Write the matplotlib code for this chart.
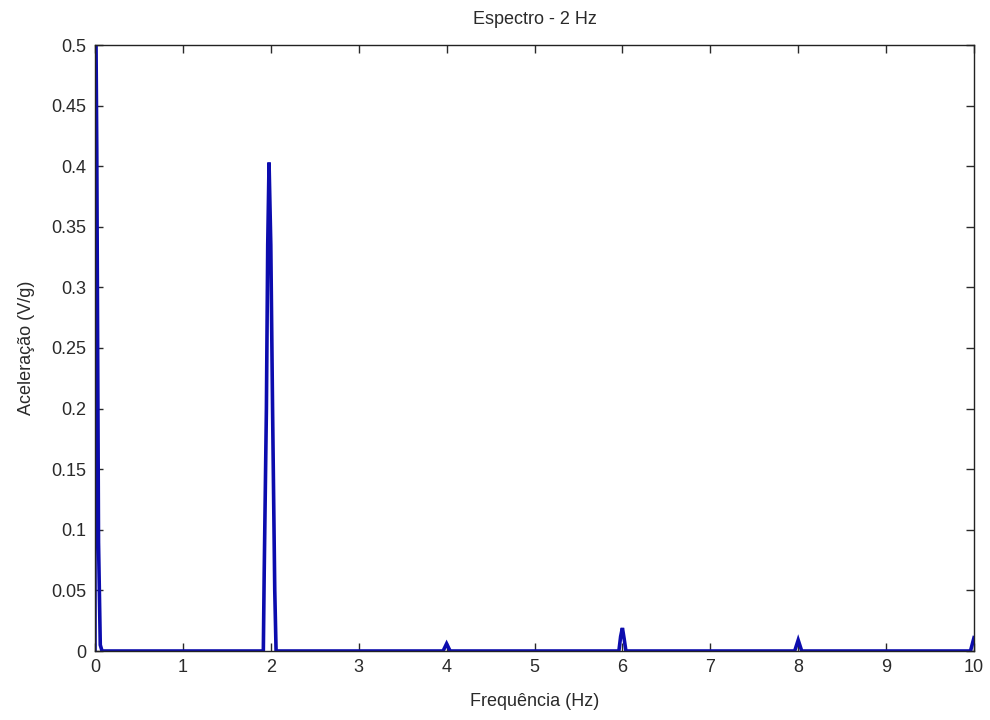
import numpy as np
import matplotlib
matplotlib.use("Agg")
import matplotlib.pyplot as plt

# spectrum (key points only, baseline is zero between)
freq = [0.0, 0.0, 0.02, 0.04, 0.06, 0.08,
        1.915, 1.925, 1.95, 1.965, 1.98, 2.0, 2.02, 2.045, 2.06,
        3.96, 4.0, 4.04,
        5.96, 5.98, 6.0, 6.02, 6.04,
        7.96, 8.0, 8.04,
        9.96, 10.0]
amp = [0.0, 0.62, 0.415, 0.09, 0.005, 0.0,
       0.0, 0.065, 0.20, 0.335, 0.403, 0.335, 0.20, 0.05, 0.0,
       0.0, 0.006, 0.0,
       0.0, 0.012, 0.019, 0.010, 0.0,
       0.0, 0.009, 0.0,
       0.0, 0.011]

xticks = list(range(0, 11))
yticks = [0, 0.05, 0.1, 0.15, 0.2, 0.25, 0.3, 0.35, 0.4, 0.45, 0.5]
yticklabels = ["0", "0.05", "0.1", "0.15", "0.2", "0.25", "0.3", "0.35", "0.4", "0.45", "0.5"]

plt.rcParams['font.family'] = ['Liberation Sans', 'DejaVu Sans']

fig = plt.figure(figsize=(9.9, 7.2), dpi=100)
ax = fig.add_axes([95/990, 1 - 651/720, (974 - 95)/990, (651 - 45)/720])

ax.plot(freq, amp, color="#0c0cae", lw=2.6, solid_joinstyle="miter")

ax.set_xlim(0, 10)
ax.set_ylim(0, 0.5)
ax.set_xticks(xticks)
ax.set_yticks(yticks)
ax.set_yticklabels(yticklabels)
ax.tick_params(direction="in", top=True, right=True, length=6, width=1,
               labelsize=13, colors="#2a2a2a", pad=6)
for s in ax.spines.values():
    s.set_linewidth(1.0)
    s.set_color("#222222")

ax.set_title("Espectro - 2 Hz", fontsize=13, color="#2a2a2a", pad=15)
ax.set_xlabel("Frequência (Hz)", fontsize=13, color="#2a2a2a", labelpad=12)
ax.set_ylabel("Aceleração (V/g)", fontsize=13, color="#2a2a2a", labelpad=12)

fig.savefig("out.png", dpi=100)
